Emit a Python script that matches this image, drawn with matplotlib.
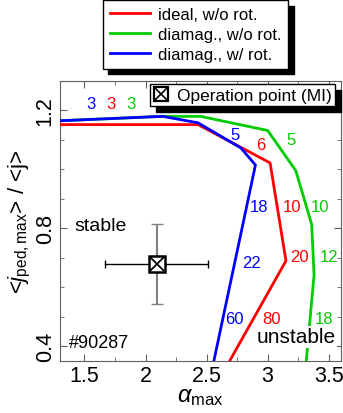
import numpy as np
import matplotlib
matplotlib.use("Agg")
from matplotlib import pyplot as plt
from matplotlib.lines import Line2D

plt.rcParams['font.family'] = ['Liberation Sans', 'DejaVu Sans']
plt.rcParams['mathtext.fontset'] = 'custom'
plt.rcParams['mathtext.rm'] = 'Liberation Sans'
plt.rcParams['mathtext.it'] = 'Liberation Sans:italic'

# stability boundaries (alpha_max, <j_ped,max>/<j>)
ideal_x = [1.30, 2.43, 3.02, 3.15, 2.69]
ideal_y = [1.152, 1.152, 1.022, 0.690, 0.351]
diam_x = [1.30, 2.14, 2.45, 3.00, 3.23, 3.36, 3.38, 3.316]
diam_y = [1.165, 1.180, 1.180, 1.132, 0.996, 0.814, 0.642, 0.351]
rot_x = [1.30, 2.14, 2.43, 2.78, 2.90, 2.56]
rot_y = [1.165, 1.180, 1.158, 1.073, 1.015, 0.351]

# toroidal mode numbers along each boundary
n_ideal = ["3", "6", "10", "20", "80"]
n_ideal_pos = [(1.72, 1.225), (2.94, 1.085), (3.20, 0.873), (3.26, 0.703), (3.03, 0.494)]
n_diam = ["3", "5", "10", "12", "18"]
n_diam_pos = [(1.88, 1.225), (3.19, 1.100), (3.43, 0.873), (3.50, 0.703), (3.46, 0.494)]
n_rot = ["3", "5", "18", "22", "60"]
n_rot_pos = [(1.55, 1.225), (2.73, 1.117), (2.93, 0.873), (2.87, 0.683), (2.73, 0.494)]

# operation point
op_x, op_xerr = 2.09, 0.42
op_y, op_yerr = 0.68, 0.135

fig = plt.figure(figsize=(3.43, 4.14), dpi=100)
ax = fig.add_axes([0.175, 0.1256, 0.819, 0.6764])

red, green, blue = '#ff0000', '#00cc00', '#0000ff'
lw = 2.0
l1, = ax.plot(ideal_x, ideal_y, color=red, lw=lw, zorder=3)
l2, = ax.plot(diam_x, diam_y, color=green, lw=lw, zorder=2)
l3, = ax.plot(rot_x, rot_y, color=blue, lw=lw, zorder=4)

for labs, pos, c in [(n_ideal, n_ideal_pos, red), (n_diam, n_diam_pos, green), (n_rot, n_rot_pos, blue)]:
    for s, (x, y) in zip(labs, pos):
        ax.text(x, y, s, color=c, fontsize=12, ha='center', va='center', zorder=6)

ax.errorbar(op_x, op_y, xerr=op_xerr, fmt='none', ecolor='black', elinewidth=1, capsize=3, zorder=5)
ax.errorbar(op_x, op_y, yerr=op_yerr, fmt='none', ecolor='#808080', elinewidth=1.5, capsize=4, zorder=5)
ax.plot(op_x, op_y, marker='s', ms=11, mfc='white', mec='black', mew=1.8, ls='none', zorder=7)
ax.plot(op_x, op_y, marker='x', ms=10, mec='black', mew=1.3, ls='none', zorder=8)

ax.text(1.63, 0.808, "stable", fontsize=14, ha='center', va='center')
ax.text(3.23, 0.432, "unstable", fontsize=15, ha='center', va='center', zorder=6,
        bbox=dict(facecolor='white', edgecolor='none', pad=1))
ax.text(1.62, 0.412, "#90287", fontsize=13, ha='center', va='center')

ax.set_xlim(1.3, 3.6)
ax.set_ylim(0.35, 1.3)
ax.set_xticks([1.5, 2, 2.5, 3, 3.5])
ax.set_xticklabels(["1.5", "2", "2.5", "3", "3.5"])
ax.set_xticks(np.arange(1.5, 3.6, 0.25), minor=True)
ax.set_yticks([0.4, 0.8, 1.2])
ax.set_yticks(np.arange(0.4, 1.3, 0.1), minor=True)
ax.tick_params(which='both', direction='in', top=True, right=True, labelsize=15.5, pad=3,
               color='#606060')
ax.tick_params(which='major', length=5)
ax.tick_params(which='minor', length=3)
for lab in ax.get_yticklabels():
    lab.set_rotation(90)
    lab.set_va('center')
for sp in ax.spines.values():
    sp.set_color('#606060')

ax.set_xlabel(r"$\alpha_{\mathrm{max}}$", fontsize=17, labelpad=-1)
ax.set_ylabel(r"<$j_{\mathrm{ped,max}}$> / <j>", fontsize=16, labelpad=1)

shadow = {'color': 'black', 'alpha': 1, 'ox': 4, 'oy': -4}
leg1 = fig.legend([l1, l2, l3], ["ideal, w/o rot.", "diamag., w/o rot.", "diamag., w/ rot."],
                  loc='upper center', bbox_to_anchor=(0.57, 0.997), borderaxespad=0.0,
                  fontsize=12, frameon=True, fancybox=False, shadow=shadow, edgecolor='black',
                  handlelength=2.4, labelspacing=0.3, borderpad=0.4, handletextpad=0.5)
leg1.get_frame().set_linewidth(1.0)

op_sq = Line2D([], [], marker='s', ms=10, mfc='white', mec='black', mew=1.6, ls='none')
op_x_h = Line2D([], [], marker='x', ms=9, mec='black', mew=1.2, ls='none')
leg2 = ax.legend([(op_sq, op_x_h)], ["Operation point (MI)"], loc='upper right',
                 bbox_to_anchor=(0.98, 0.988), fontsize=12.5, frameon=True, fancybox=False,
                 shadow=shadow, edgecolor='black', handlelength=0.9, borderpad=0.2,
                 borderaxespad=0.0, handletextpad=0.45)
leg2.get_frame().set_linewidth(1.0)
leg2.set_zorder(10)

fig.savefig("out.png", dpi=100)
plt.close('all')
